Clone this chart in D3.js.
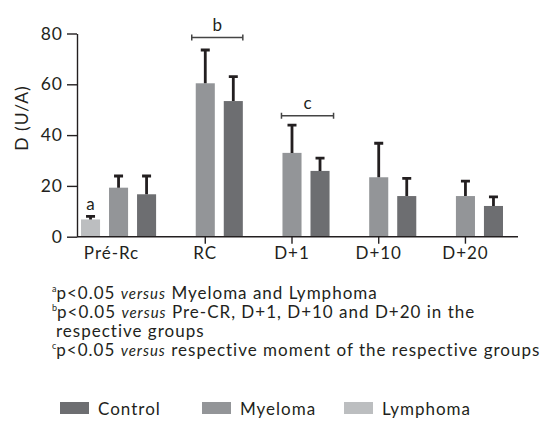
<!doctype html>
<html>
<head>
<meta charset="utf-8">
<script src="https://d3js.org/d3.v7.min.js"></script>
<style>
  body { margin: 0; background: #fff; }
  svg { display: block; font-family: Lato, "Open Sans", sans-serif; }
</style>
</head>
<body>
<svg width="553" height="425"></svg>
<script>
const categories = ["Pré-Rc", "RC", "D+1", "D+10", "D+20"];
const groups = ["Lymphoma", "Myeloma", "Control"];

// means and upper SD per moment
const lymphoma   = [6.8, null, null, null, null];
const lymphomaSD = [1.2, null, null, null, null];
const myeloma    = [19.3, 60.4, 33.0, 23.4, 16.0];
const myelomaSD  = [4.6, 13.1, 10.9, 13.4, 5.9];
const control    = [16.7, 53.4, 25.9, 16.0, 12.1];
const controlSD  = [7.2, 9.6, 5.0, 7.0, 3.6];

const yTicks = [0, 20, 40, 60, 80];

const colors = { Lymphoma: "#bcbec0", Myeloma: "#939598", Control: "#6d6e71" };

const notes = [
  { sup: "a", parts: [["p<0.05 ", false], ["versus", true], [" Myeloma and Lymphoma", false]] },
  { sup: "b", parts: [["p<0.05 ", false], ["versus", true], [" Pre-CR, D+1, D+10 and D+20 in the", false]] },
  { sup: "", parts: [["respective groups", false]] },
  { sup: "c", parts: [["p<0.05 ", false], ["versus", true], [" respective moment of the respective groups", false]] }
];

const legendOrder = ["Control", "Myeloma", "Lymphoma"];

// significance brackets over myeloma + control of a moment
const brackets = [
  { cat: "RC", label: "b", level: 78.4, padL: 4, padR: 0 },
  { cat: "D+1", label: "c", level: 47.6, padL: 1, padR: 4 }
];

const rows = categories.map((c, i) => ({
  cat: c,
  values: [
    { g: "Lymphoma", v: lymphoma[i], sd: lymphomaSD[i] },
    { g: "Myeloma", v: myeloma[i], sd: myelomaSD[i] },
    { g: "Control", v: control[i], sd: controlSD[i] }
  ].filter(d => d.v != null)
}));

const svg = d3.select("svg");
const axisLeftX = 77, axisRightX = 518;
const ink = "#231f20";

const y = d3.scaleLinear().domain([0, 80]).range([236.7, 33.5]);
const x0 = d3.scaleBand().domain(categories).range([81, 503]).paddingInner(0.134);
const x1 = d3.scaleBand().domain(groups).range([0, x0.bandwidth()]).paddingInner(0.32);

// bars
const g = svg.selectAll(".grp").data(rows).enter().append("g")
  .attr("class", "grp")
  .attr("transform", d => `translate(${x0(d.cat)},0)`);

g.selectAll("rect").data(d => d.values).enter().append("rect")
  .attr("x", d => x1(d.g))
  .attr("width", x1.bandwidth())
  .attr("y", d => y(d.v))
  .attr("height", d => y(0) - y(d.v))
  .attr("fill", d => colors[d.g]);

// error bars (upper only)
const capW = 9;
g.selectAll(".err").data(d => d.values).enter().append("path")
  .attr("class", "err")
  .attr("d", d => {
    const cx = x1(d.g) + x1.bandwidth() / 2;
    const top = y(d.v + d.sd);
    return `M${cx},${y(d.v)}V${top}M${cx - capW / 2},${top}H${cx + capW / 2}`;
  })
  .attr("stroke", ink)
  .attr("stroke-width", 2.8)
  .attr("fill", "none");

// "a" marker above lymphoma pre
svg.append("text")
  .attr("x", x0("Pré-Rc") + x1("Lymphoma") + x1.bandwidth() / 2)
  .attr("y", y(lymphoma[0] + lymphomaSD[0]) - 6)
  .attr("text-anchor", "middle")
  .attr("font-size", 17)
  .attr("fill", ink)
  .text("a");

// brackets
brackets.forEach(b => {
  const xa = x0(b.cat) + x1("Myeloma") - b.padL;
  const xb = x0(b.cat) + x1("Control") + x1.bandwidth() + b.padR;
  const yy = y(b.level);
  svg.append("path")
    .attr("d", `M${xa},${yy}H${xb}M${xa},${yy - 3}V${yy + 3}M${xb},${yy - 3}V${yy + 3}`)
    .attr("stroke", "#444")
    .attr("stroke-width", 1.5)
    .attr("fill", "none");
  svg.append("text")
    .attr("x", (xa + xb) / 2)
    .attr("y", yy - 7)
    .attr("text-anchor", "middle")
    .attr("font-size", 17)
    .attr("fill", ink)
    .text(b.label);
});

// y axis
const yAxis = svg.append("g")
  .attr("transform", `translate(${axisLeftX},0)`)
  .call(d3.axisLeft(y).tickValues(yTicks).tickSize(10).tickSizeOuter(0).tickPadding(4));
yAxis.selectAll("path, line").attr("stroke", ink).attr("stroke-width", 1.4);
yAxis.selectAll("text")
  .attr("font-size", 17.5)
  .attr("letter-spacing", 1)
  .attr("font-family", "Lato, sans-serif")
  .attr("fill", ink);

// x axis
svg.append("line")
  .attr("x1", axisLeftX).attr("x2", axisRightX)
  .attr("y1", y(0)).attr("y2", y(0))
  .attr("stroke", ink).attr("stroke-width", 1.4);
const xt = svg.selectAll(".xt").data(categories).enter().append("g")
  .attr("class", "xt")
  .attr("transform", d => `translate(${x0(d) + x1("Myeloma") + x1.bandwidth() / 2},${y(0)})`);
xt.filter((d, i) => i > 0).append("line")
  .attr("y2", 7).attr("stroke", ink).attr("stroke-width", 1.4);
xt.append("text")
  .attr("y", 22)
  .attr("dx", (d, i) => i === 0 ? -7 : 0)
  .attr("text-anchor", "middle")
  .attr("font-size", 17)
  .attr("letter-spacing", 1)
  .attr("fill", ink)
  .text(d => d);

// y label
svg.append("text")
  .attr("transform", `translate(28,118) rotate(-90)`)
  .attr("text-anchor", "middle")
  .attr("font-size", 17.5)
  .attr("letter-spacing", 1)
  .attr("fill", ink)
  .text("D (U/A)");

// footnotes
const nt = svg.selectAll(".note").data(notes).enter().append("text")
  .attr("class", "note")
  .attr("x", d => d.sup ? 52 : 56)
  .attr("y", (d, i) => 299 + i * 19)
  .attr("font-size", 17)
  .attr("letter-spacing", 1)
  .attr("fill", ink);
nt.each(function (d) {
  const t = d3.select(this);
  if (d.sup) t.append("tspan").attr("font-size", 9).attr("dy", -7).attr("letter-spacing", 0).text(d.sup);
  d.parts.forEach((p, k) => {
    t.append("tspan")
      .attr("dy", d.sup && k === 0 ? 7 : null)
      .attr("font-style", p[1] ? "italic" : null)
      .attr("font-size", p[1] ? 15 : 17)
      .text(p[0]);
  });
});

// legend
const lg = svg.selectAll(".lg").data(legendOrder).enter().append("g")
  .attr("class", "lg")
  .attr("transform", (d, i) => `translate(${60 + i * 142},402)`);
lg.append("rect").attr("width", 29).attr("height", 12).attr("fill", d => colors[d]);
lg.append("text")
  .attr("x", 38).attr("y", 13)
  .attr("font-size", 17)
  .attr("letter-spacing", 1)
  .attr("fill", ink)
  .text(d => d);
</script>
</body>
</html>
